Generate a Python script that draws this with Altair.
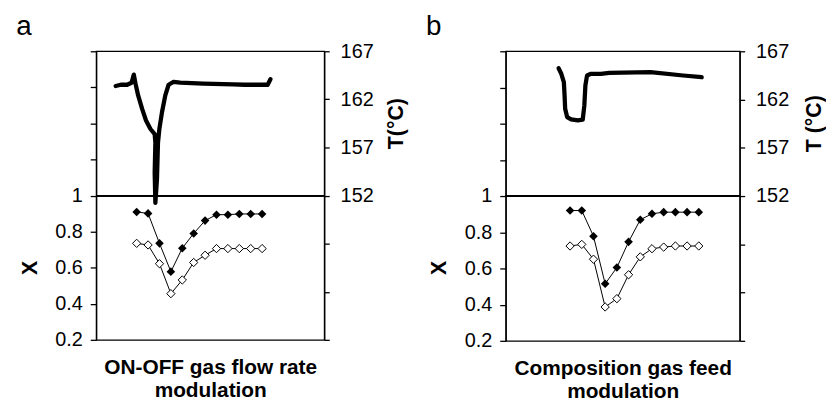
import altair as alt
import pandas as pd

FONT = "Liberation Sans"

# ---------------- panel a : ON-OFF gas flow rate modulation ----------------
a_steps = [3.55, 4.55, 5.55, 6.55, 7.55, 8.55, 9.55, 10.55, 11.55, 12.55, 13.55, 14.55]
a_conv_filled = [0.909, 0.901, 0.735, 0.578, 0.708, 0.790, 0.861, 0.894, 0.894, 0.898, 0.898, 0.898]
a_conv_open = [0.735, 0.726, 0.622, 0.456, 0.532, 0.629, 0.669, 0.706, 0.706, 0.706, 0.706, 0.706]
a_time = [1.71, 2.15, 2.72, 3.10, 3.30, 3.45, 3.68, 4.03, 4.37, 4.76, 5.13, 5.19, 5.13, 5.19,
          5.33, 5.42, 5.54, 5.77, 6.06, 6.35, 6.78, 7.37, 9.39, 12.0, 13.04, 15.04, 15.28]
a_temp = [163.39, 163.52, 163.52, 163.73, 164.57, 163.63, 162.41, 161.01, 159.80, 158.92, 158.39,
          157.52, 154.38, 151.24, 153.68, 157.52, 158.92, 160.66, 162.41, 163.52, 163.81, 163.73,
          163.63, 163.55, 163.52, 163.52, 164.09]

# ---------------- panel b : composition gas feed modulation ----------------
b_steps = [5.5, 6.5, 7.5, 8.5, 9.5, 10.5, 11.5, 12.5, 13.5, 14.5, 15.5, 16.5]
b_conv_filled = [0.920, 0.920, 0.778, 0.515, 0.605, 0.747, 0.869, 0.902, 0.911, 0.911, 0.911, 0.911]
b_conv_open = [0.724, 0.733, 0.651, 0.387, 0.433, 0.565, 0.664, 0.709, 0.718, 0.724, 0.724, 0.724]
b_time = [4.52, 4.75, 4.97, 5.03, 5.08, 5.25, 5.59, 6.16, 6.58, 6.72, 6.81, 6.95, 7.29, 8.14,
          8.84, 12.37, 15.17, 16.75]
b_temp = [165.24, 164.67, 163.80, 162.42, 161.05, 160.18, 159.94, 159.84, 159.91, 161.39, 163.46,
          164.49, 164.67, 164.67, 164.77, 164.83, 164.49, 164.31]

x_ticks_left = [0.2, 0.4, 0.6, 0.8, 1.0, 1.2, 1.4, 1.6, 1.8]
t_ticks_right = [137, 142, 147, 152, 157, 162, 167]


def panel(steps, filled, opened, ttime, temp, letter, xtitle, ttitle, width, height, rtitle_x):
    pts = pd.DataFrame({"t": steps, "filled": filled, "open": opened})
    tdf = pd.DataFrame({"t": ttime, "T": temp, "i": list(range(len(ttime)))})

    xscale = alt.Scale(domain=[0, 20], nice=False, zero=False)
    xaxis = alt.Axis(title=xtitle, domain=False, ticks=False, labels=False, grid=False,
                     titleFont=FONT, titleFontSize=21, titleFontWeight="bold",
                     titleLineHeight=23, titleBaseline="alphabetic", titleY=34,
                     titleColor="black")
    yscale = alt.Scale(domain=[0.2, 1.8], nice=False, zero=False)
    yaxis = alt.Axis(title="X", values=x_ticks_left,
                     labelExpr="datum.value <= 1.001 ? format(datum.value, '~g') : ''",
                     tickSize=6, labelPadding=8, grid=False,
                     labelFont=FONT, labelFontSize=20, labelColor="black",
                     domainColor="black", domainWidth=1.3, tickColor="black", tickWidth=1.3,
                     titleFont=FONT, titleFontSize=21.5, titleFontWeight="bold",
                     titleColor="black", titleAngle=270, titleBaseline="middle",
                     titleX=-66.5, titleY=218)
    tscale = alt.Scale(domain=[137, 167], nice=False, zero=False)
    taxis = alt.Axis(orient="right", title=ttitle, values=t_ticks_right,
                     labelExpr="datum.value >= 152 ? datum.label : ''",
                     tickSize=5, labelPadding=11, grid=False,
                     labelFont=FONT, labelFontSize=20, labelColor="black",
                     domainColor="black", domainWidth=1.3, tickColor="black", tickWidth=1.3,
                     titleFont=FONT, titleFontSize=21.5, titleFontWeight="bold",
                     titleColor="black", titleAngle=270, titleBaseline="middle",
                     titleX=rtitle_x, titleY=72.5)

    X = alt.X("t:Q", scale=xscale, axis=xaxis)
    base = alt.Chart(pts)
    rule = base.mark_rule(color="black", strokeWidth=1.3).encode(
        y=alt.YDatum(1.0, scale=yscale, axis=yaxis))
    fl = base.mark_line(color="black", strokeWidth=1).encode(
        x=X, y=alt.Y("filled:Q", scale=yscale, axis=yaxis))
    ol = base.mark_line(color="black", strokeWidth=1).encode(
        x=X, y=alt.Y("open:Q", scale=yscale, axis=yaxis))
    op = base.mark_point(shape="diamond", filled=True, fill="white", stroke="black",
                         strokeWidth=1, size=70, opacity=1).encode(
        x=X, y=alt.Y("open:Q", scale=yscale, axis=yaxis))
    fp = base.mark_point(shape="diamond", filled=True, color="black", size=75,
                         opacity=1).encode(
        x=X, y=alt.Y("filled:Q", scale=yscale, axis=yaxis))
    conv = alt.layer(rule, fl, ol, op, fp)

    tline = alt.Chart(tdf).mark_line(color="black", strokeWidth=4.3, strokeCap="round",
                                     strokeJoin="round").encode(
        x=X, y=alt.Y("T:Q", scale=tscale, axis=taxis), order="i:Q")

    return alt.layer(conv, tline).resolve_scale(y="independent").properties(
        width=width, height=height,
        title=alt.TitleParams(letter, anchor="start", frame="bounds", fontSize=28,
                              fontWeight="normal", font=FONT, color="black", offset=0,
                              dx=-3))


pa = panel(a_steps, a_conv_filled, a_conv_open, a_time, a_temp, "a",
           ["ON-OFF gas flow rate", "modulation"], "T(°C)", 230, 291, 73)
pb = panel(b_steps, b_conv_filled, b_conv_open, b_time, b_temp, "b",
           ["Composition gas feed", "modulation"], "T (°C)", 236, 292, 75)

chart = alt.hconcat(pa, pb, spacing=16).properties(
    padding={"left": 15, "top": 11, "right": 0, "bottom": 0},
    background="white",
).configure_view(stroke="black", strokeWidth=1.3)

chart.save("out.html", embed_options={"renderer": "svg", "actions": False})
